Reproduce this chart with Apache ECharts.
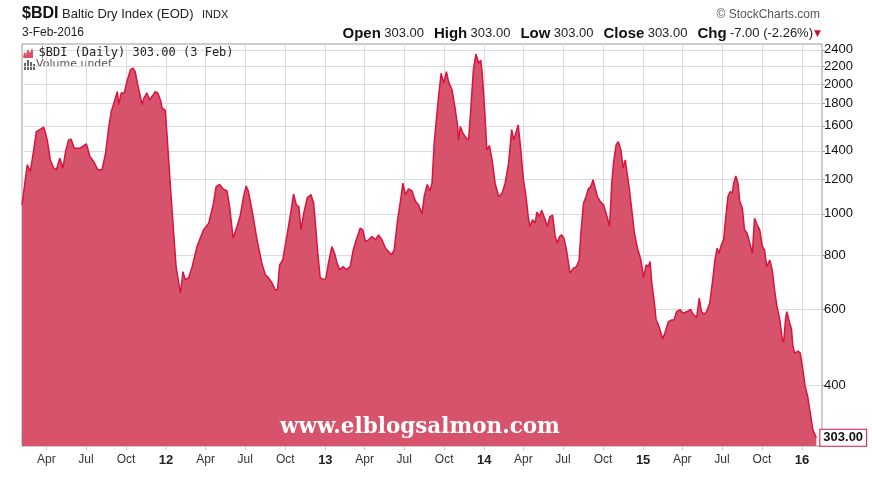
<!DOCTYPE html>
<html><head><meta charset="utf-8">
<script src="https://cdn.jsdelivr.net/npm/echarts@6/dist/echarts.min.js"></script>
<style>html,body{margin:0;padding:0;background:#fff}#c{width:872px;height:480px}</style>
</head><body><div id="c"></div>
<script>
const dates = [
'2011-02-04','2011-02-16','2011-02-23','2011-03-03','2011-03-09','2011-03-17','2011-03-26','2011-04-03','2011-04-10','2011-04-18','2011-04-24','2011-05-02','2011-05-09','2011-05-15','2011-05-22','2011-05-28','2011-06-04','2011-06-18','2011-06-26','2011-07-02','2011-07-10','2011-07-19','2011-07-28','2011-08-07','2011-08-15','2011-08-22','2011-08-28','2011-09-03','2011-09-11','2011-09-14','2011-09-20','2011-09-27','2011-10-03','2011-10-11','2011-10-17','2011-10-22','2011-10-28','2011-11-01','2011-11-07','2011-11-11','2011-11-18','2011-11-24','2011-12-02','2011-12-07','2011-12-13','2011-12-19','2011-12-23','2011-12-30',
'2012-01-03','2012-01-07','2012-01-12','2012-01-18','2012-01-24','2012-02-03','2012-02-09','2012-02-14','2012-02-22','2012-03-01','2012-03-12','2012-03-27','2012-04-08','2012-04-19','2012-04-25','2012-05-03','2012-05-11','2012-05-20','2012-05-26','2012-06-03','2012-06-12','2012-06-19','2012-06-27','2012-07-03','2012-07-08','2012-07-18','2012-07-28','2012-08-08','2012-08-16','2012-08-23','2012-09-01','2012-09-08','2012-09-13','2012-09-18','2012-09-25','2012-10-03','2012-10-12','2012-10-20','2012-10-26','2012-11-01','2012-11-06','2012-11-12','2012-11-20','2012-11-29','2012-12-05','2012-12-09','2012-12-14','2012-12-20','2012-12-28',
'2013-01-02','2013-01-08','2013-01-16','2013-01-22','2013-01-28','2013-02-03','2013-02-11','2013-02-18','2013-02-27','2013-03-06','2013-03-13','2013-03-22','2013-03-28','2013-04-03','2013-04-10','2013-04-18','2013-04-26','2013-05-03','2013-05-11','2013-05-19','2013-05-26','2013-06-02','2013-06-08','2013-06-16','2013-06-24','2013-06-28','2013-07-04','2013-07-11','2013-07-19','2013-07-27','2013-08-03','2013-08-11','2013-08-16','2013-08-23','2013-08-29','2013-09-03','2013-09-08','2013-09-13','2013-09-18','2013-09-24','2013-09-30','2013-10-06','2013-10-11','2013-10-19','2013-10-26','2013-11-01','2013-11-03','2013-11-07','2013-11-13','2013-11-21','2013-11-26','2013-12-01','2013-12-07','2013-12-13','2013-12-19','2013-12-24','2013-12-27',
'2014-01-02','2014-01-07','2014-01-13','2014-01-19','2014-01-26','2014-02-03','2014-02-11','2014-02-18','2014-02-26','2014-03-05','2014-03-10','2014-03-17','2014-03-20','2014-03-26','2014-04-01','2014-04-07','2014-04-12','2014-04-16','2014-04-22','2014-04-28','2014-05-02','2014-05-08','2014-05-13','2014-05-21','2014-05-26','2014-06-01','2014-06-07','2014-06-13','2014-06-18','2014-06-23','2014-06-28','2014-07-03','2014-07-09','2014-07-17','2014-07-25','2014-08-01','2014-08-07','2014-08-11','2014-08-17','2014-08-23','2014-08-28','2014-09-03','2014-09-08','2014-09-12','2014-09-18','2014-09-24','2014-10-02','2014-10-10','2014-10-16','2014-10-21','2014-10-25','2014-10-31','2014-11-05','2014-11-11','2014-11-16','2014-11-21','2014-11-25','2014-12-01','2014-12-07','2014-12-12','2014-12-19','2014-12-27',
'2015-01-02','2015-01-08','2015-01-13','2015-01-17','2015-01-21','2015-01-27','2015-01-31','2015-02-05','2015-02-10','2015-02-15','2015-02-20','2015-02-28','2015-03-08','2015-03-13','2015-03-19','2015-03-27','2015-04-03','2015-04-12','2015-04-20','2015-04-27','2015-05-04','2015-05-10','2015-05-15','2015-05-21','2015-05-27','2015-06-03','2015-06-09','2015-06-15','2015-06-20','2015-06-24','2015-06-30','2015-07-05','2015-07-10','2015-07-15','2015-07-20','2015-07-25','2015-07-28','2015-08-02','2015-08-07','2015-08-11','2015-08-17','2015-08-22','2015-08-28','2015-09-03','2015-09-09','2015-09-14','2015-09-20','2015-09-26','2015-10-02','2015-10-07','2015-10-12','2015-10-19','2015-10-25','2015-10-30','2015-11-04','2015-11-11','2015-11-17','2015-11-20','2015-11-24','2015-11-27','2015-12-02','2015-12-08','2015-12-11','2015-12-15','2015-12-23','2015-12-28',
'2016-01-03','2016-01-08','2016-01-14','2016-01-20','2016-01-26','2016-02-03'
];
const values = [
1050,1299,1253,1407,1551,1568,1588,1484,1334,1276,1266,1346,1277,1394,1484,1490,1420,1420,1440,1453,1358,1321,1266,1266,1382,1579,1726,1804,1920,1791,1906,1906,2025,2155,2175,2136,1990,1906,1791,1854,1906,1836,1886,1920,1906,1836,1757,1740,
1538,1334,1117,918,755,655,735,704,712,755,840,918,952,1059,1157,1170,1143,1130,1040,879,935,986,1097,1160,1130,1000,871,769,723,712,691,667,667,762,782,871,986,1112,1050,1040,918,1000,1088,1108,1059,952,825,712,704,
708,769,840,811,769,742,755,742,755,825,871,927,918,863,871,886,871,894,871,833,818,804,825,969,1097,1178,1108,1143,1130,1070,1050,1000,1097,1170,1130,1178,1458,1651,1870,2117,2007,2136,2025,1937,1757,1593,1484,1593,1538,1497,1484,1740,2155,2346,2233,2272,2136,
1740,1407,1440,1334,1178,1097,1117,1178,1311,1568,1484,1568,1608,1407,1200,1097,986,935,969,952,1010,986,1020,969,935,986,994,886,856,886,894,879,825,729,749,755,782,902,1059,1097,1143,1157,1200,1157,1097,1070,1050,986,935,1178,1311,1445,1470,1407,1276,1334,1321,1130,1000,902,833,782,
712,762,755,776,691,621,568,554,534,513,530,563,568,568,594,600,589,594,601,584,576,638,594,586,594,621,691,782,833,810,850,871,986,1097,1127,1117,1178,1225,1178,1070,1032,918,902,856,811,977,944,918,840,825,755,782,738,667,615,568,511,505,568,594,568,540,496,476,481,476,
436,400,378,346,316,303
];
const yTicks = [400,600,800,1000,1200,1400,1600,1800,2000,2200,2400];
const xTicks = ['2011-04-01','2011-07-01','2011-10-01','2012-01-01','2012-04-01','2012-07-01','2012-10-01','2013-01-01','2013-04-01','2013-07-01','2013-10-01','2014-01-01','2014-04-01','2014-07-01','2014-10-01','2015-01-01','2015-04-01','2015-07-01','2015-10-01','2016-01-01'];
const xRange = ['2011-02-04', '2016-02-16'];
const monthNames = ['Jan','Feb','Mar','Apr','May','Jun','Jul','Aug','Sep','Oct','Nov','Dec'];
const seriesName = '$BDI (Daily) 303.00 (3 Feb)';
const lastLabel = '303.00';

const ts = s => Date.parse(s + 'T00:00:00Z');
const chart = echarts.init(document.getElementById('c'), null, {renderer: 'canvas'});
const FONT = 'Liberation Sans';
chart.setOption({
  animation: false,
  backgroundColor: '#fff',
  grid: {left: 22, right: 50, top: 44, bottom: 34, show: true, borderColor: '#9a9a9a', borderWidth: 1, backgroundColor: '#fff'},
  legend: {
    show: true, left: 23, top: 47, padding: 0, itemWidth: 11, itemHeight: 10, itemGap: 0,
    icon: 'path://M0,10 L1,4 L3,6 L5,1 L7,5 L9,0 L10,3 L10,10 Z',
    textStyle: {fontFamily: 'DejaVu Sans Mono', fontSize: 12, color: '#222'},
    data: [seriesName]
  },
  xAxis: {
    type: 'value',
    min: ts(xRange[0]), max: ts(xRange[1]),
    axisLine: {show: false},
    axisTick: {show: true, customValues: xTicks.map(ts), length: 4, lineStyle: {color: '#c8c8c8'}},
    splitLine: {show: true, lineStyle: {color: '#dcdcdc', width: 1}},
    axisLabel: {
      customValues: xTicks.map(ts), margin: 8, color: '#333', fontSize: 12, fontFamily: FONT,
      formatter: function (v) {
        const d = new Date(v); const m = d.getUTCMonth();
        if (m === 0) return '{y|' + String(d.getUTCFullYear()).slice(2) + '}';
        return monthNames[m];
      },
      rich: {y: {fontWeight: 'bold', fontSize: 13, color: '#222', fontFamily: FONT}}
    }
  },
  yAxis: {
    type: 'log', logBase: 10, position: 'right',
    min: 290, max: 2475,
    axisLine: {show: false},
    axisTick: {show: true, customValues: yTicks, length: 3, lineStyle: {color: '#9a9a9a'}},
    splitLine: {show: true, lineStyle: {color: '#dcdcdc', width: 1}},
    axisLabel: {customValues: yTicks, margin: 2, color: '#111', fontSize: 13, fontFamily: FONT, formatter: v => String(Math.round(v))}
  },
  series: [{
    name: seriesName,
    type: 'line',
    data: dates.map((d, i) => [ts(d), values[i]]),
    showSymbol: false, symbol: 'none',
    itemStyle: {color: '#d6536b'},
    lineStyle: {color: '#d8143f', width: 1.5},
    areaStyle: {color: '#d6536b', opacity: 1, origin: 'start'},
    endLabel: {
      show: true, formatter: lastLabel, distance: 4,
      backgroundColor: '#fff', borderColor: '#d8143f', borderWidth: 1, padding: [2, 3, 1, 3],
      fontWeight: 'bold', fontSize: 13, color: '#111', fontFamily: FONT
    }
  }],
  graphic: [
    {type: 'text', left: 22, top: 6, style: {text: '$BDI', font: 'bold 16px "Liberation Sans"', fill: '#111'}},
    {type: 'text', left: 62, top: 8, style: {text: 'Baltic Dry Index (EOD)', font: '13px "Liberation Sans"', fill: '#222'}},
    {type: 'text', left: 202, top: 9, style: {text: 'INDX', font: '11px "Liberation Sans"', fill: '#222'}},
    {type: 'text', left: 22, top: 27, style: {text: '3-Feb-2016', font: '12px "Liberation Sans"', fill: '#222'}},
    {type: 'text', right: 52, top: 9, style: {text: '\u00a9 StockCharts.com', font: '12px "Liberation Sans"', fill: '#555'}},
    {type: 'text', right: 59, top: 26, style: {
      text: '{b|Open} {n|303.00}   {b|High} {n|303.00}   {b|Low} {n|303.00}   {b|Close} {n|303.00}   {b|Chg} {n|-7.00 (-2.26%)}',
      rich: {b: {font: 'bold 15px "Liberation Sans"', fill: '#111'}, n: {font: '13px "Liberation Sans"', fill: '#222'}}
    }},
    {type: 'text', right: 51, top: 29, style: {text: '\u25bc', font: '9px "DejaVu Sans"', fill: '#c8102e'}},
    {type: 'group', left: 24, top: 59, children: [
      {type: 'rect', shape: {x: 0, y: 3, width: 2, height: 7}, style: {fill: '#666'}},
      {type: 'rect', shape: {x: 3, y: 0, width: 2, height: 10}, style: {fill: '#666'}},
      {type: 'rect', shape: {x: 6, y: 2, width: 2, height: 8}, style: {fill: '#666'}},
      {type: 'rect', shape: {x: 9, y: 4, width: 2, height: 6}, style: {fill: '#666'}},
      {type: 'text', x: 12, y: -1, style: {text: 'Volume undef', font: '11px "DejaVu Sans"', fill: '#555'}}
    ]},
    {type: 'text', left: 280, top: 416, z: 100, style: {text: 'www.elblogsalmon.com', font: 'bold 21.5px "DejaVu Serif"', fill: '#fff'}}
  ]
});
</script></body></html>
